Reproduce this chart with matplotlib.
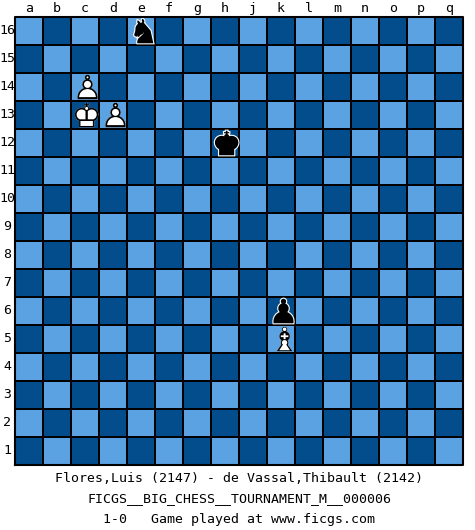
import matplotlib
matplotlib.use('Agg')
import matplotlib.pyplot as plt
from matplotlib.colors import ListedColormap
from matplotlib.font_manager import FontProperties
from matplotlib.textpath import TextPath
from matplotlib.patches import PathPatch, Polygon
from matplotlib.transforms import Affine2D
import numpy as np

files = ['a', 'b', 'c', 'd', 'e', 'f', 'g', 'h', 'j', 'k', 'l', 'm', 'n', 'o', 'p', 'q']
ranks = list(range(1, 17))
piece_types = ['n', 'P', 'K', 'P', 'k', 'p', 'B']
piece_squares = ['e16', 'c14', 'c13', 'd13', 'h12', 'k6', 'k5']
title_lines = ['Flores,Luis (2147) - de Vassal,Thibault (2142)',
               'FICGS__BIG_CHESS__TOURNAMENT_M__000006',
               '1-0   Game played at www.ficgs.com']

light = '#5aa2e2'
dark = '#044d8d'
solid = {'k': '\u265a', 'q': '\u265b', 'r': '\u265c', 'b': '\u265d', 'n': '\u265e', 'p': '\u265f'}
hollow = {'k': '\u2654', 'q': '\u2655', 'r': '\u2656', 'b': '\u2657', 'n': '\u2658', 'p': '\u2659'}

W, H = 475, 530
fig = plt.figure(figsize=(W / 100, H / 100), dpi=100)
fig.patch.set_facecolor('white')
x0, y0, size = 15, 17, 448
ax = fig.add_axes([x0 / W, (H - y0 - size) / H, size / W, size / H])
ax.set_xlim(0, 16)
ax.set_ylim(0, 16)
ax.axis('off')

n = len(files)
board = np.array([[(f + r) % 2 for f in range(n)] for r in range(len(ranks))])
ax.pcolormesh(np.arange(n + 1), np.arange(len(ranks) + 1), board,
              cmap=ListedColormap([dark, light]), edgecolors='black', linewidth=1.2)
ax.plot([0, 16, 16, 0, 0], [0, 0, 16, 16, 0], color='black', lw=1.5, clip_on=False)

mono = 'DejaVu Sans Mono'
for i, f in enumerate(files):
    ax.text(i + 0.5, 16.32, f, ha='center', va='center', fontsize=9.5, family=mono)
for r in ranks:
    ax.text(-0.27, r - 0.5, str(r), ha='center', va='center', fontsize=9.5, family=mono)

prop = FontProperties(family='DejaVu Sans')
em = 1.2  # glyph em size in squares


def draw_piece(key, cx, cy, white):
    sp = TextPath((0, 0), solid[key], size=1, prop=prop)
    v = sp.vertices
    mx = (v[:, 0].min() + v[:, 0].max()) / 2
    my = (v[:, 1].min() + v[:, 1].max()) / 2
    tr = Affine2D().translate(-mx, -my).scale(em).translate(cx, cy)
    polys = sp.to_polygons(transform=tr)
    if white:
        for poly in polys:
            ax.add_patch(Polygon(poly, closed=True, facecolor='white', edgecolor='none'))
        hp = TextPath((0, 0), hollow[key], size=1, prop=prop)
        ax.add_patch(PathPatch(tr.transform_path(hp), facecolor='black', edgecolor='none'))
    else:
        for poly in polys:
            ax.add_patch(Polygon(poly, closed=True, facecolor='black', edgecolor='white', lw=1.6))
        for poly in polys:
            ax.add_patch(Polygon(poly, closed=True, facecolor='black', edgecolor='none'))


for p, sq in zip(piece_types, piece_squares):
    cx = files.index(sq[0]) + 0.5
    cy = int(sq[1:]) - 0.5
    draw_piece(p.lower(), cx, cy, p.isupper())

for j, line in enumerate(title_lines):
    fig.text((x0 + size / 2) / W, 1 - (479 + j * 20) / H, line, ha='center', va='center',
             fontsize=9.5, family=mono)

fig.savefig('out.png', dpi=100)
